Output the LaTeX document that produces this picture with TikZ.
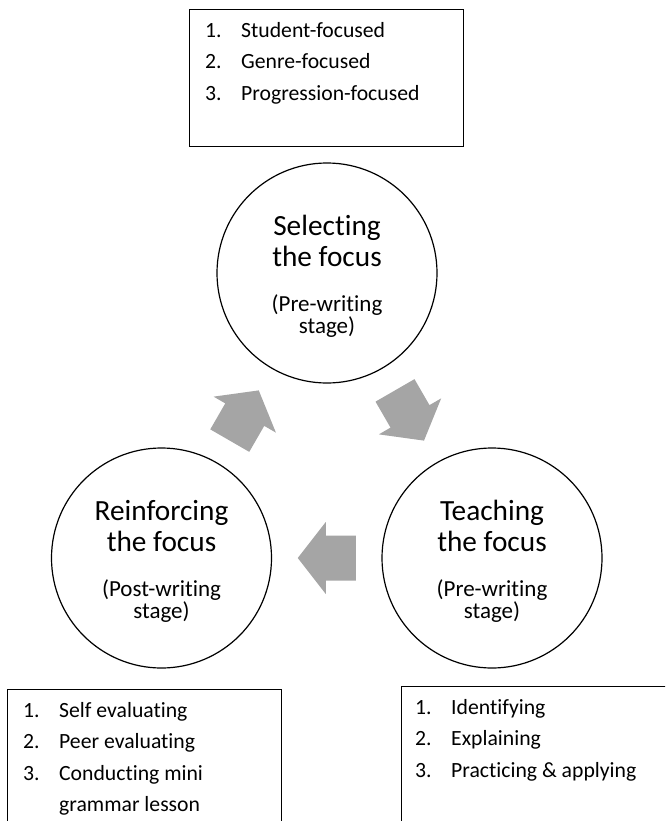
\documentclass[tikz,border=0pt]{standalone}
\usepackage{fontspec}
\setmainfont{Carlito}[Ligatures=NoCommon]
\usepackage{tikz}
\usetikzlibrary{calc}
\usetikzlibrary{positioning}
\usepackage{xcolor}

\definecolor{arrowgray}{RGB}{165,165,165}
\newcommand{\itm}[1]{\makebox[36pt][l]{#1}}

\begin{document}
\begin{tikzpicture}[x=1pt,y=1pt,
  stage/.style={draw,circle,line width=1.2pt,minimum size=220pt,inner sep=0pt},
  title/.style={align=center,inner sep=0pt,font=\fontsize{29.3}{31.7}\selectfont},
  sub/.style={align=center,inner sep=0pt,font=\fontsize{23}{22.7}\selectfont},
  listbox/.style={draw,line width=1pt,inner sep=0pt,anchor=north west},
  listtext/.style={anchor=north west,inner sep=0pt,font=\fontsize{21.7}{31.5}\selectfont},
  cyclearrow/.pic={
    \fill[arrowgray] (-29,-22.5) -- (1,-22.5) -- (1,-36) -- (29,0) --
                     (1,36) -- (1,22.5) -- (-29,22.5) -- cycle;}
]

% moldura
\useasboundingbox (0,0) rectangle (665,-821);
\clip (0,0) rectangle (665,-821);

% os tres circulos
\node[stage] (sel) at (327,-273) {};
\node[stage] (rei) at (161.5,-558) {};
\node[stage] (tea) at (492,-558) {};

% textos dos circulos
\node[title] (selT) at ([yshift=32]sel.center) {Selecting\\the focus};
\node[sub] (selS) at ([yshift=-43]sel.center) {(Pre-writing\\stage)};

\node[title] (reiT) at ([yshift=32]rei.center) {Reinforcing\\the focus};
\node[sub] (reiS) at ([yshift=-43]rei.center) {(Post-writing\\stage)};

\node[title] (teaT) at ([yshift=32]tea.center) {Teaching\\the focus};
\node[sub] (teaS) at ([yshift=-43]tea.center) {(Pre-writing\\stage)};

% setas cinzentas entre os circulos
\pic[rotate=-60] at ($(sel)!0.5!(tea)$) {cyclearrow};
\pic[rotate=180] at ($(tea)!0.5!(rei)$) {cyclearrow};
\pic[rotate=60] at ($(rei)!0.5!(sel)$) {cyclearrow};

% caixas com as listas
\node[listbox,minimum width=274,minimum height=137] (selBox) at (189,-9) {};
\node[listtext] (selList) at ([shift={(16,-6)}]selBox.north west) {%
  \begin{tabular}{@{}l@{}}
  \itm{1.}Student-focused\\
  \itm{2.}Genre-focused\\
  \itm{3.}Progression-focused
  \end{tabular}};

\node[listbox,minimum width=274,minimum height=200] (reiBox) at (7,-689) {};
\node[listtext] (reiList) at ([shift={(16,-6)}]reiBox.north west) {%
  \begin{tabular}{@{}l@{}}
  \itm{1.}Self evaluating\\
  \itm{2.}Peer evaluating\\
  \itm{3.}Conducting mini\\
  \itm{}grammar lesson
  \end{tabular}};

\node[listbox,minimum width=300,minimum height=200] (teaBox) at (401,-686) {};
\node[listtext] (teaList) at ([shift={(14,-6)}]teaBox.north west) {%
  \begin{tabular}{@{}l@{}}
  \itm{1.}Identifying\\
  \itm{2.}Explaining\\
  \itm{3.}Practicing \& applying
  \end{tabular}};

\end{tikzpicture}
\end{document}
